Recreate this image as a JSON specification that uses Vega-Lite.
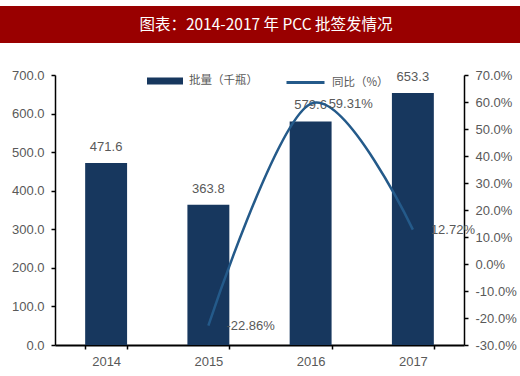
{
  "$schema": "https://vega.github.io/schema/vega-lite/v6.json",
  "background": "white",
  "padding": {"left": 0, "top": 6, "right": 0, "bottom": 0},
  "spacing": 26,
  "config": {
    "view": {"stroke": null},
    "font": "Liberation Sans",
    "locale": {"number": {"decimal": ".", "thousands": ",", "grouping": [3], "currency": ["$", ""], "minus": "-"}},
    "axis": {"domainColor": "black", "tickColor": "black", "labelColor": "#595959", "labelFontSize": 13, "labelFont": "Liberation Sans", "grid": false, "title": null, "domainWidth": 1.5, "tickWidth": 1.5, "tickSize": 4},
    "legend": {"labelFont": "Noto Sans CJK SC", "labelFontSize": 11.5, "labelColor": "#595959", "padding": 0, "symbolOffset": 0, "labelOffset": 6}
  },
  "vconcat": [
    {
      "width": 520,
      "height": 37,
      "view": {"fill": "#990000", "stroke": null},
      "data": {"values": [{"t": "图表：2014-2017 年 PCC 批签发情况"}]},
      "mark": {"type": "text", "color": "white", "font": "Noto Sans CJK SC", "fontSize": 15.5, "fontWeight": "normal", "dx": 6},
      "encoding": {"text": {"field": "t"}}
    },
    {
      "spacing": 10,
      "hconcat": [
        {
          "width": 1,
          "height": 270,
          "data": {"values": []},
          "mark": "point"
        },
        {
          "width": 409,
          "height": 270,
          "data": {"values": [
            {"year": "2014", "qty": 471.6, "yoy": null},
            {"year": "2015", "qty": 363.8, "yoy": -0.2286},
            {"year": "2016", "qty": 579.6, "yoy": 0.5931},
            {"year": "2017", "qty": 653.3, "yoy": 0.1272}
          ]},
          "encoding": {
            "x": {"field": "year", "type": "nominal", "scale": {"paddingInner": 0.59, "paddingOuter": 0.295},
                  "axis": {"tickBand": "extent", "labelAngle": 0, "labelPadding": 6, "domainWidth": 2}}
          },
          "layer": [
            {
              "encoding": {
                "y": {"field": "qty", "type": "quantitative", "scale": {"domain": [0, 700], "nice": false},
                      "axis": {"orient": "left", "values": [0, 100, 200, 300, 400, 500, 600, 700], "format": ".1f", "labelPadding": 7}}
              },
              "layer": [
                {
                  "mark": {"type": "bar", "color": "#17375e"},
                  "encoding": {
                    "fill": {"datum": "批量（千瓶）", "type": "nominal", "scale": {"range": ["#17375e"]},
                             "legend": {"orient": "none", "legendX": 147, "legendY": 57, "title": null, "symbolType": "M-1,-0.2H1V0.2H-1Z", "symbolSize": 1296, "symbolStrokeWidth": 0}}
                  }
                },
                {
                  "mark": {"type": "text", "baseline": "bottom", "dy": -9, "fontSize": 13, "color": "#595959"},
                  "encoding": {"text": {"field": "qty", "type": "quantitative", "format": ".1f"}}
                }
              ]
            },
            {
              "transform": [{"filter": "isValid(datum.yoy)"}],
              "encoding": {
                "y": {"field": "yoy", "type": "quantitative", "scale": {"domain": [-0.3, 0.7], "nice": false},
                      "axis": {"orient": "right", "values": [-0.3, -0.2, -0.1, 0, 0.1, 0.2, 0.3, 0.4, 0.5, 0.6, 0.7], "format": ".1%", "labelPadding": 7}}
              },
              "layer": [
                {
                  "mark": {"type": "line", "interpolate": "cardinal", "tension": 0, "strokeWidth": 2.5},
                  "encoding": {
                    "stroke": {"datum": "同比（%）", "type": "nominal", "scale": {"range": ["#245a8a"]},
                               "legend": {"orient": "none", "legendX": 285, "legendY": 56, "title": null, "symbolType": "stroke", "symbolSize": 1444, "symbolStrokeWidth": 3}}
                  }
                },
                {
                  "mark": {"type": "text", "align": "left", "baseline": "middle", "dx": 18, "fontSize": 13, "color": "#595959"},
                  "encoding": {"text": {"field": "yoy", "type": "quantitative", "format": ".2%"}}
                }
              ]
            }
          ],
          "resolve": {"scale": {"y": "independent"}}
        }
      ]
    }
  ]
}
